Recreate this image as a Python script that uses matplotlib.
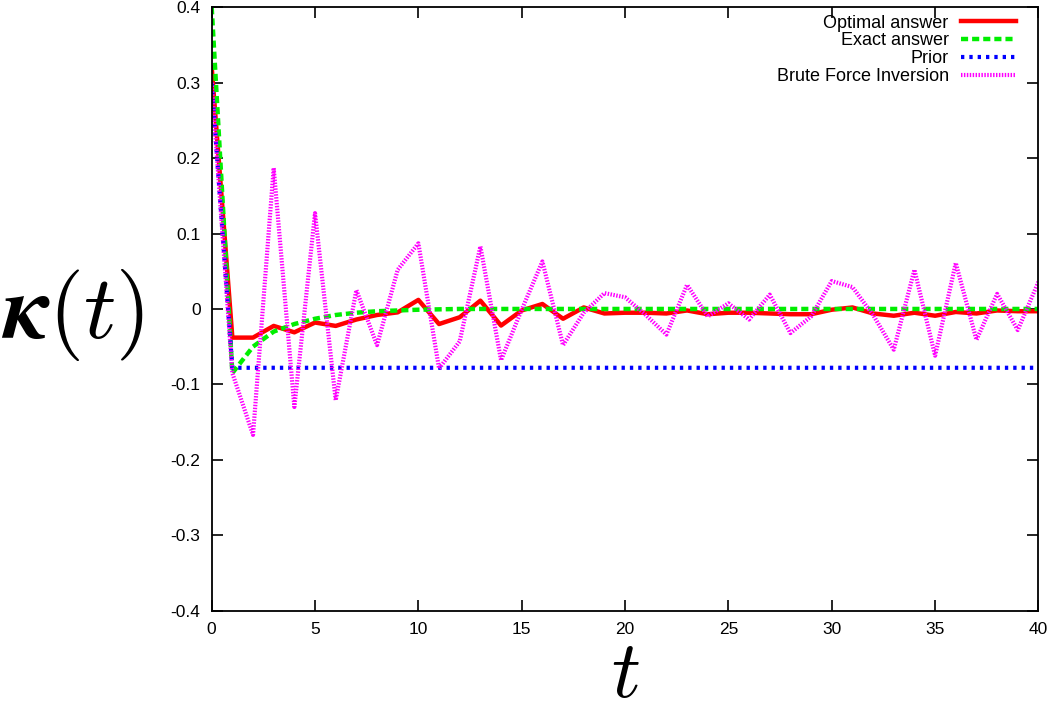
import matplotlib
matplotlib.use('Agg')
import matplotlib.pyplot as plt
import numpy as np

plt.rcParams['mathtext.fontset'] = 'cm'
plt.rcParams['font.family'] = ['Liberation Sans', 'DejaVu Sans']

t = np.arange(0, 41)

# optimal answer (red)
optimal = [0.321, -0.038, -0.038, -0.0225, -0.031, -0.018, -0.0225, -0.014, -0.008, -0.0045,
           0.012, -0.020, -0.011, 0.011, -0.022, -0.002, 0.0066, -0.013, 0.002, -0.006,
           -0.005, -0.005, -0.006, -0.002, -0.007, -0.005, -0.005, -0.006, -0.007, -0.007,
           -0.001, 0.002, -0.006, -0.009, -0.005, -0.009, -0.004, -0.006, -0.002, -0.003,
           -0.003]

# exact answer (green)
exact = [0.40, -0.085, -0.050, -0.030, -0.020, -0.013, -0.008, -0.005, -0.003, -0.002,
         -0.001, -0.0005, 0, 0, 0, 0, 0, 0, 0, 0,
         0, 0, 0, 0, 0, 0, 0, 0, 0, 0,
         0, 0, 0, 0, 0, 0, 0, 0, 0, 0,
         0]

# prior (blue)
prior = [0.30] + [-0.078] * 40

# brute force inversion (magenta)
brute = [0.30, -0.085, -0.167, 0.187, -0.130, 0.127, -0.121, 0.025, -0.048, 0.052,
         0.087, -0.079, -0.043, 0.083, -0.068, -0.001, 0.063, -0.048, -0.005, 0.021,
         0.0155, -0.008, -0.034, 0.032, -0.010, 0.0075, -0.014, 0.019, -0.032, -0.010,
         0.037, 0.029, -0.008, -0.054, 0.052, -0.062, 0.061, -0.041, 0.020, -0.028,
         0.036]

fig = plt.figure(figsize=(10.5, 7.17), dpi=100)
ax = fig.add_axes([0.2016, 0.1484, 0.7874, 0.8414])

ax.plot(t, optimal, color='#ff0000', lw=3.2, label='Optimal answer')
ax.plot(t, exact, color='#00ee00', lw=3.2, linestyle=(0, (1.6, 0.9)), label='Exact answer')
ax.plot(t, prior, color='#0000ff', lw=3.0, linestyle=(0, (0.8, 1.2)), label='Prior')
ax.plot(t, brute, color='#ff00ff', lw=3.0, linestyle=(0, (0.35, 0.35)), label='Brute Force Inversion')

ax.set_xlim(0, 40)
ax.set_ylim(-0.4, 0.4)
ax.set_xticks(np.arange(0, 41, 5))
yt = np.round(np.arange(-0.4, 0.41, 0.1), 1)
ax.set_yticks(yt)
ax.set_yticklabels(['0' if v == 0 else '%g' % v for v in yt])
ax.tick_params(direction='in', length=8, width=1.2, top=True, right=True, labelsize=12.5, pad=8)
for s in ax.spines.values():
    s.set_linewidth(1.3)

ax.set_xlabel(r'$t$', fontsize=58, labelpad=1)
ax.set_ylabel(r'$\boldsymbol{\kappa}(t)$', fontsize=65, rotation=0, labelpad=0)
ax.yaxis.set_label_coords(-0.168, 0.49)
ax.yaxis.label.set_va('center')
ax.yaxis.label.set_ha('center')

ax.legend(loc='upper right', bbox_to_anchor=(0.981, 1.0), frameon=False, markerfirst=False,
          fontsize=13, handlelength=3.0, handletextpad=0.7, labelspacing=0.05, borderaxespad=0)

fig.savefig('out.png', dpi=100)
